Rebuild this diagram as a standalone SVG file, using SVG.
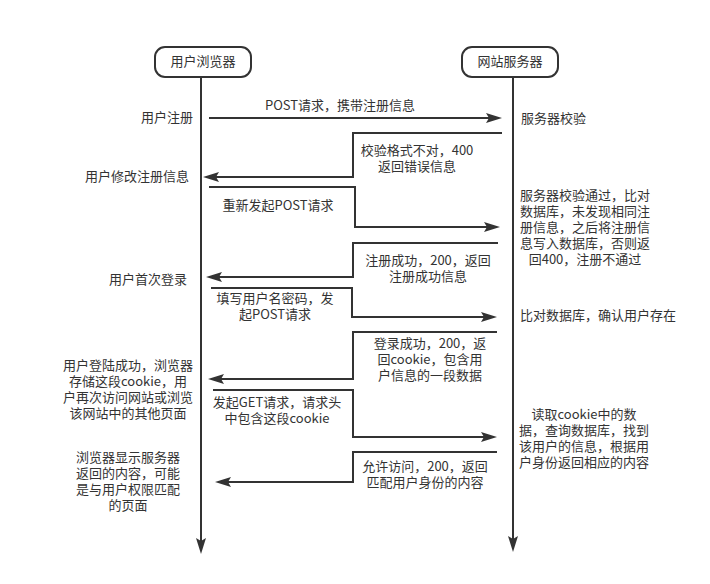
<svg xmlns="http://www.w3.org/2000/svg" width="710" height="584" viewBox="0 0 710 584">
  <style>
    text { font-family: "Noto Sans CJK SC", "Liberation Sans", sans-serif; font-size: 13px; fill: #333; }
    .c { text-anchor: middle; }
    .l { text-anchor: start; }
    .box { fill: #fff; stroke: #333; stroke-width: 2; }
    .line { fill: none; stroke: #333; stroke-width: 2; }
    .msg { fill: none; stroke: #333; stroke-width: 2; marker-end: url(#arrow); }
  </style>
  <defs>
    <marker id="arrow" viewBox="0 0 16 10" refX="12" refY="5" markerWidth="16" markerHeight="10" markerUnits="userSpaceOnUse" orient="auto">
      <path d="M0,0 L16,5 L0,10 L3,5 Z" fill="#333"/>
    </marker>
  </defs>
  <rect width="710" height="584" fill="#fff"/>

  <!-- participants -->
  <g id="browser">
    <line class="msg" x1="201" y1="78" x2="201" y2="550"/>
    <rect class="box" x="155" y="47" width="96" height="30" rx="10"/>
    <text class="c" x="203" y="66">用户浏览器</text>
  </g>
  <g id="server">
    <line class="msg" x1="513" y1="78" x2="513" y2="548"/>
    <rect class="box" x="462" y="47" width="96" height="30" rx="10"/>
    <text class="c" x="510" y="66">网站服务器</text>
  </g>

  <!-- messages -->
  <g id="connectors">
    <polyline class="msg" points="209,118 498,118"/>
    <polyline class="msg" points="502,133 353,133 353,177 207,177"/>
    <polyline class="msg" points="209,187 355,187 355,227 496,227"/>
    <polyline class="msg" points="498,243 353,243 353,277 210,277"/>
    <polyline class="msg" points="211,288 352,288 352,317 493,317"/>
    <polyline class="msg" points="497,332 353,332 353,379 212,379"/>
    <polyline class="msg" points="213,390 353,390 353,437 493,437"/>
    <polyline class="msg" points="497,452 353,452 353,482 219,482"/>
  </g>

  <!-- message labels -->
  <g id="labels">
    <text class="c" x="340" y="110">POST请求，携带注册信息</text>
    <text class="c" x="417" y="155">校验格式不对，400</text>
    <text class="c" x="417" y="171">返回错误信息</text>
    <text class="c" x="278" y="210">重新发起POST请求</text>
    <text class="c" x="428" y="265">注册成功，200，返回</text>
    <text class="c" x="428" y="281">注册成功信息</text>
    <text class="c" x="275" y="303">填写用户名密码，发</text>
    <text class="c" x="275" y="319">起POST请求</text>
    <text class="c" x="430" y="348">登录成功，200，返</text>
    <text class="c" x="430" y="364">回cookie，包含用</text>
    <text class="c" x="430" y="380">户信息的一段数据</text>
    <text class="c" x="277" y="407">发起GET请求，请求头</text>
    <text class="c" x="277" y="423">中包含这段cookie</text>
    <text class="c" x="425" y="471">允许访问，200，返回</text>
    <text class="c" x="425" y="487">匹配用户身份的内容</text>
  </g>

  <!-- browser-side notes -->
  <g id="browser-notes">
    <text class="c" x="167" y="122">用户注册</text>
    <text class="c" x="137" y="181">用户修改注册信息</text>
    <text class="c" x="148" y="284">用户首次登录</text>
    <text class="c" x="128" y="370">用户登陆成功，浏览器</text>
    <text class="c" x="128" y="386">存储这段cookie，用</text>
    <text class="c" x="128" y="402">户再次访问网站或浏览</text>
    <text class="c" x="128" y="418">该网站中的其他页面</text>
    <text class="c" x="128" y="462">浏览器显示服务器</text>
    <text class="c" x="128" y="478">返回的内容，可能</text>
    <text class="c" x="128" y="494">是与用户权限匹配</text>
    <text class="c" x="128" y="510">的页面</text>
  </g>

  <!-- server-side notes -->
  <g id="server-notes">
    <text class="l" x="521" y="123">服务器校验</text>
    <text class="c" x="585" y="200">服务器校验通过，比对</text>
    <text class="c" x="585" y="216">数据库，未发现相同注</text>
    <text class="c" x="585" y="232">册信息，之后将注册信</text>
    <text class="c" x="585" y="248">息写入数据库，否则返</text>
    <text class="c" x="585" y="264">回400，注册不通过</text>
    <text class="l" x="520" y="320">比对数据库，确认用户存在</text>
    <text class="c" x="584" y="419">读取cookie中的数</text>
    <text class="c" x="584" y="435">据，查询数据库，找到</text>
    <text class="c" x="584" y="451">该用户的信息，根据用</text>
    <text class="c" x="584" y="467">户身份返回相应的内容</text>
  </g>
</svg>
